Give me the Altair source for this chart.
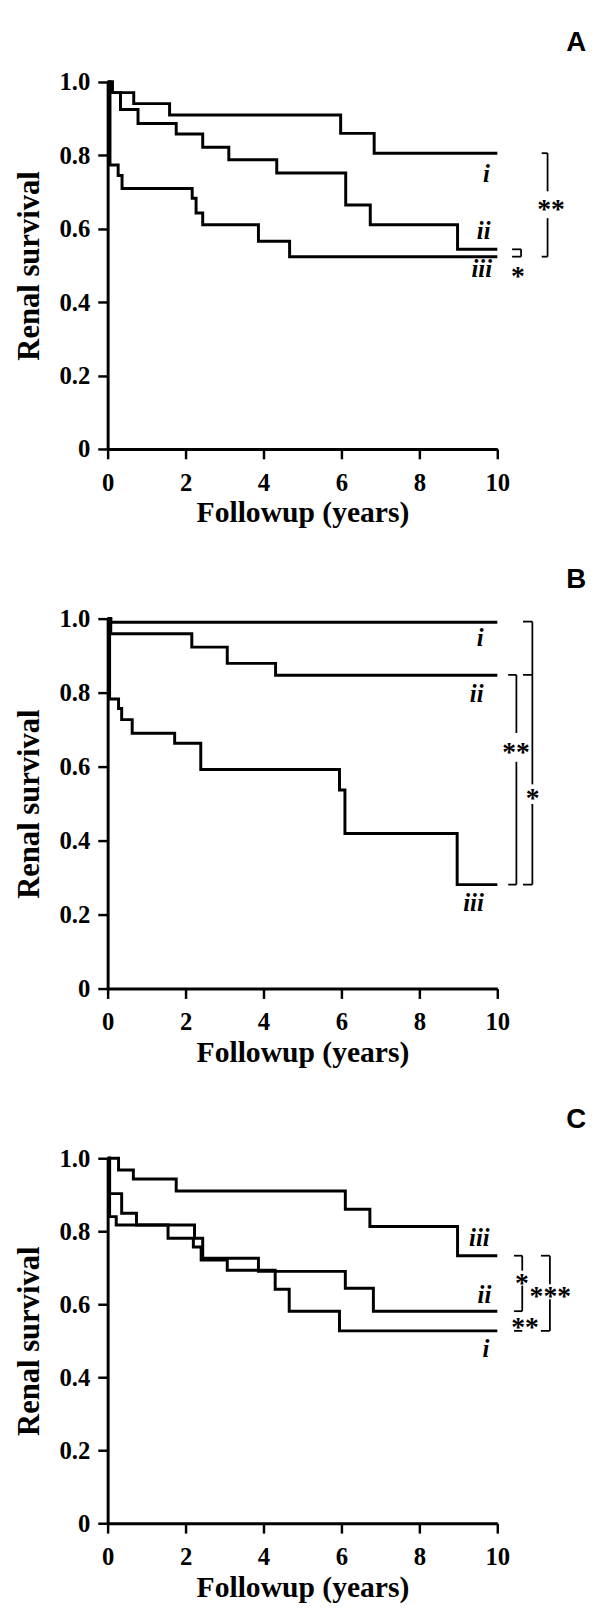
import altair as alt
import pandas as pd

SERIF = "Liberation Serif"
SANS = "Liberation Sans"

# ---------------- Panel A ----------------
A_i_t = [0, 0.12, 0.67, 1.59, 5.98, 6.84, 10]
A_i_s = [1.0, 0.971, 0.941, 0.910, 0.860, 0.806, 0.806]
A_ii_t = [0, 0.12, 0.33, 0.78, 1.76, 2.44, 3.11, 4.34, 6.11, 6.74, 8.98, 10]
A_ii_s = [1.0, 0.971, 0.925, 0.887, 0.858, 0.822, 0.788, 0.752, 0.665, 0.611, 0.544, 0.544]
A_iii_t = [0, 0.06, 0.27, 0.37, 2.17, 2.27, 2.44, 3.87, 4.67, 10]
A_iii_s = [1.0, 0.774, 0.745, 0.710, 0.683, 0.643, 0.611, 0.566, 0.524, 0.524]
A_lab_txt = ["i", "ii", "iii"]
A_lab_t = [9.72, 9.65, 9.6]
A_lab_s = [0.75, 0.594, 0.489]
# bracket segments (t, t2, s, s2)
A_seg_t = [11.14, 11.29, 11.29, 11.14, 10.38, 10.61, 10.38]
A_seg_t2 = [11.29, 11.29, 11.29, 11.29, 10.61, 10.61, 10.61]
A_seg_s = [0.806, 0.806, 0.629, 0.524, 0.544, 0.544, 0.524]
A_seg_s2 = [0.806, 0.702, 0.524, 0.524, 0.544, 0.524, 0.524]
A_star_txt = ["**", "*"]
A_star_t = [11.38, 10.53]
A_star_s = [0.664, 0.481]

# ---------------- Panel B ----------------
B_i_t = [0, 0.08, 10]
B_i_s = [1.0, 0.99, 0.99]
B_ii_t = [0, 0.08, 2.16, 3.07, 4.31, 10]
B_ii_s = [1.0, 0.959, 0.923, 0.879, 0.847, 0.847]
B_iii_t = [0, 0.05, 0.28, 0.36, 0.63, 1.72, 2.39, 5.95, 6.09, 8.97, 10]
B_iii_s = [1.0, 0.783, 0.757, 0.727, 0.690, 0.663, 0.592, 0.537, 0.419, 0.281, 0.281]
B_lab_txt = ["i", "ii", "iii"]
B_lab_t = [9.56, 9.47, 9.39]
B_lab_s = [0.947, 0.797, 0.232]
B_seg_t = [10.28, 10.49, 10.49, 10.28, 10.66, 10.90, 10.90, 10.66, 10.66]
B_seg_t2 = [10.49, 10.49, 10.49, 10.49, 10.90, 10.90, 10.90, 10.90, 10.90]
B_seg_s = [0.848, 0.848, 0.613, 0.281, 0.992, 0.992, 0.499, 0.281, 0.848]
B_seg_s2 = [0.848, 0.691, 0.281, 0.281, 0.992, 0.552, 0.281, 0.281, 0.848]
B_star_txt = ["**", "*"]
B_star_t = [10.48, 10.91]
B_star_s = [0.651, 0.525]

# ---------------- Panel C ----------------
C_iii_t = [0, 0.28, 0.66, 1.76, 6.1, 6.73, 8.98, 10]
C_iii_s = [1.0, 0.968, 0.943, 0.910, 0.860, 0.813, 0.733, 0.733]
C_ii_t = [0, 0.05, 0.36, 0.74, 2.23, 2.44, 3.87, 6.1, 6.82, 10]
C_ii_s = [1.0, 0.903, 0.849, 0.817, 0.781, 0.726, 0.690, 0.644, 0.581, 0.581]
C_i_t = [0, 0.05, 0.22, 1.55, 2.2, 2.4, 3.07, 4.3, 4.66, 5.95, 10]
C_i_s = [1.0, 0.840, 0.817, 0.781, 0.757, 0.721, 0.693, 0.641, 0.581, 0.527, 0.527]
C_lab_txt = ["iii", "ii", "i"]
C_lab_t = [9.54, 9.67, 9.71]
C_lab_s = [0.781, 0.624, 0.476]
C_seg_t = [10.43, 10.64, 10.64, 10.43, 10.43, 11.12, 11.35, 11.35, 11.12]
C_seg_t2 = [10.64, 10.64, 10.64, 10.64, 10.64, 11.35, 11.35, 11.35, 11.35]
C_seg_s = [0.733, 0.733, 0.651, 0.581, 0.527, 0.733, 0.733, 0.614, 0.527]
C_seg_s2 = [0.733, 0.692, 0.581, 0.581, 0.527, 0.733, 0.655, 0.527, 0.527]
C_star_txt = ["*", "**", "***"]
C_star_t = [10.63, 10.71, 11.36]
C_star_s = [0.668, 0.549, 0.632]

X_TICKS = [0, 2, 4, 6, 8, 10]
Y_TICKS = [0, 0.2, 0.4, 0.6, 0.8, 1.0]

W = 395


def build_panel(letter, curves, lab, seg, star, height):
    frames = []
    for name, (ts, ss) in curves.items():
        frames.append(pd.DataFrame({"t": ts, "s": ss, "g": name}))
    lines = pd.concat(frames, ignore_index=True)

    xenc = alt.X(
        "t:Q",
        scale=alt.Scale(domain=[0, 10], nice=False, zero=False),
        axis=alt.Axis(
            values=X_TICKS, title="Followup (years)", grid=False,
            labelFont=SERIF, labelFontSize=25, labelFontWeight="bold",
            labelColor="black", labelPadding=12,
            titleFont=SERIF, titleFontSize=30, titleFontWeight="bold",
            titleColor="black", titlePadding=3,
            domainColor="black", domainWidth=3, tickColor="black",
            tickWidth=2.5, tickSize=10, labelFlush=False,
        ),
    )
    yenc = alt.Y(
        "s:Q",
        scale=alt.Scale(domain=[0, 1], nice=False, zero=False),
        axis=alt.Axis(
            values=Y_TICKS, title="Renal survival", grid=False,
            labelExpr="datum.value == 0 ? '0' : format(datum.value, '.1f')",
            labelFont=SERIF, labelFontSize=25, labelFontWeight="bold",
            labelColor="black", labelPadding=8,
            titleFont=SERIF, titleFontSize=31, titleFontWeight="bold",
            titleColor="black", titlePadding=14,
            domainColor="black", domainWidth=3, tickColor="black",
            tickWidth=2.5, tickSize=10, labelFlush=False,
        ),
    )

    line_layer = alt.Chart(lines).mark_line(
        interpolate="step-after", color="black", strokeWidth=3
    ).encode(x=xenc, y=yenc, detail="g:N")

    lab_df = pd.DataFrame({"t": lab[1], "s": lab[2], "k": lab[0]})
    lab_layer = alt.Chart(lab_df).mark_text(
        font=SERIF, fontSize=25, fontWeight="bold", fontStyle="italic",
        color="black", baseline="middle", align="center",
    ).encode(x=xenc, y=yenc, text="k:N")

    seg_df = pd.DataFrame({"t": seg[0], "t2": seg[1], "s": seg[2], "s2": seg[3]})
    seg_layer = alt.Chart(seg_df).mark_rule(color="black", strokeWidth=1.8).encode(
        x=xenc, x2="t2:Q", y=yenc, y2="s2:Q"
    )

    star_df = pd.DataFrame({"t": star[1], "s": star[2], "k": star[0]})
    star_layer = alt.Chart(star_df).mark_text(
        font=SERIF, fontSize=28, fontWeight="bold", color="black",
        baseline="alphabetic", align="center", dy=13,
    ).encode(x=xenc, y=yenc, text="k:N")

    let_df = pd.DataFrame({"k": [letter]})
    let_layer = alt.Chart(let_df).mark_text(
        font=SANS, fontSize=28, fontWeight="bold", color="black",
        baseline="middle", align="center",
    ).encode(x=alt.value(475), y=alt.value(-39), text="k:N")

    return alt.layer(line_layer, seg_layer, lab_layer, star_layer, let_layer).properties(
        width=W, height=height
    )


pA = build_panel(
    "A",
    {"i": (A_i_t, A_i_s), "ii": (A_ii_t, A_ii_s), "iii": (A_iii_t, A_iii_s)},
    (A_lab_txt, A_lab_t, A_lab_s),
    (A_seg_t, A_seg_t2, A_seg_s, A_seg_s2),
    (A_star_txt, A_star_t, A_star_s),
    372,
)
pB = build_panel(
    "B",
    {"i": (B_i_t, B_i_s), "ii": (B_ii_t, B_ii_s), "iii": (B_iii_t, B_iii_s)},
    (B_lab_txt, B_lab_t, B_lab_s),
    (B_seg_t, B_seg_t2, B_seg_s, B_seg_s2),
    (B_star_txt, B_star_t, B_star_s),
    375,
)
pC = build_panel(
    "C",
    {"i": (C_i_t, C_i_s), "ii": (C_ii_t, C_ii_s), "iii": (C_iii_t, C_iii_s)},
    (C_lab_txt, C_lab_t, C_lab_s),
    (C_seg_t, C_seg_t2, C_seg_s, C_seg_s2),
    (C_star_txt, C_star_t, C_star_s),
    370,
)

chart = alt.vconcat(pA, pB, pC, spacing=39).properties(
    padding={"left": 5, "top": 11, "right": 5, "bottom": 0},
    background="white",
).configure_view(stroke=None)

chart.save("out.html", embed_options={"renderer": "svg", "actions": False})
